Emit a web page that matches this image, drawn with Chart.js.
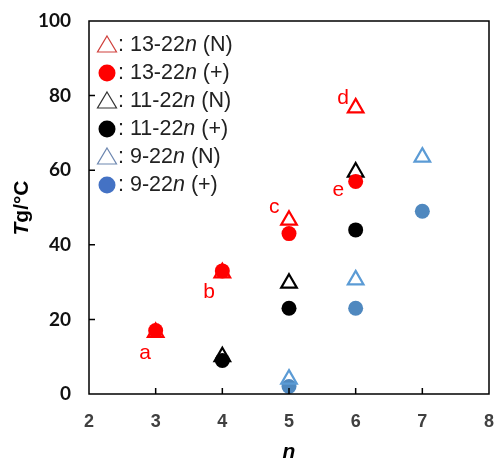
<!DOCTYPE html>
<html>
<head>
<meta charset="utf-8">
<script src="https://cdn.jsdelivr.net/npm/chart.js@4/dist/chart.umd.min.js"></script>
<style>
  html, body { margin: 0; padding: 0; background: #fff; }
</style>
</head>
<body>
<canvas id="tgChart" width="495" height="458"></canvas>
<script>
// values
const red13N = [{ x: 3, y: 16.5 }, { x: 4, y: 32.5 }, { x: 5, y: 46.6 }, { x: 6, y: 76.7 }];
const red13P = [{ x: 3, y: 17 }, { x: 4, y: 33 }, { x: 5, y: 43 }, { x: 6, y: 57 }];
const blk11N = [{ x: 4, y: 10 }, { x: 5, y: 29.7 }, { x: 6, y: 59.5 }];
const blk11P = [{ x: 4, y: 9 }, { x: 5, y: 23 }, { x: 6, y: 44 }];
const blu9N = [{ x: 5, y: 4 }, { x: 6, y: 30.6 }, { x: 7, y: 63.5 }];
const blu9P = [{ x: 5, y: 2 }, { x: 6, y: 23 }, { x: 7, y: 49 }];

const xTicks = [2, 3, 4, 5, 6, 7, 8];
const yTicks = [0, 20, 40, 60, 80, 100];

// red letters next to points
const noteText = ["a", "b", "c", "d", "e"];
const noteX = [2.84, 3.8, 4.78, 5.81, 5.74];
const noteY = [11, 27.3, 50, 79.4, 54.7];

const legendNames = ["13-22", "13-22", "11-22", "11-22", "9-22", "9-22"];
const legendTags = ["(N)", "(+)", "(N)", "(+)", "(N)", "(+)"];
const legendColors = ["#d0403c", "#ff0000", "#333333", "#000000", "#6d87b0", "#4472c4"];
const legendShapes = ["triangle", "circle", "triangle", "circle", "triangle", "circle"];

const tri = (data, color) => ({
  data, pointStyle: "triangle", pointRadius: 9, pointHoverRadius: 9,
  borderColor: color, borderWidth: 2.2, backgroundColor: "rgba(255,255,255,0)", showLine: false,
});
const dot = (data, color) => ({
  data, pointStyle: "circle", pointRadius: 7.5, pointHoverRadius: 7.5,
  borderColor: color, borderWidth: 0, backgroundColor: color, showLine: false,
});

const extras = {
  id: "extras",
  afterDraw(chart) {
    const { ctx, scales: { x, y } } = chart;
    const L = x.getPixelForValue(2), R = x.getPixelForValue(8);
    const T = y.getPixelForValue(100), B = y.getPixelForValue(0);
    ctx.save();
    // box + inward ticks
    ctx.strokeStyle = "#000";
    ctx.lineWidth = 1.5;
    ctx.beginPath();
    ctx.rect(L, T, R - L, B - T);
    yTicks.forEach((v) => {
      const py = y.getPixelForValue(v);
      ctx.moveTo(L, py); ctx.lineTo(L + 6, py);
    });
    xTicks.forEach((v) => {
      const px = x.getPixelForValue(v);
      ctx.moveTo(px, B); ctx.lineTo(px, B - 6);
    });
    ctx.stroke();

    // letters
    ctx.fillStyle = "#ff0000";
    ctx.font = "21px 'Liberation Sans'";
    ctx.textAlign = "center";
    ctx.textBaseline = "middle";
    noteText.forEach((t, i) => {
      ctx.fillText(t, x.getPixelForValue(noteX[i]), y.getPixelForValue(noteY[i]));
    });

    // legend
    ctx.textAlign = "left";
    ctx.textBaseline = "middle";
    const fs = "21.5px 'Liberation Sans'";
    legendNames.forEach((name, i) => {
      const cy = 45 + i * 28;
      const cx = 107;
      const c = legendColors[i];
      if (legendShapes[i] === "triangle") {
        ctx.strokeStyle = c;
        ctx.lineWidth = 1.2;
        ctx.beginPath();
        ctx.moveTo(cx, cy - 9); ctx.lineTo(cx + 9.5, cy + 7); ctx.lineTo(cx - 9.5, cy + 7);
        ctx.closePath();
        ctx.stroke();
      } else {
        ctx.fillStyle = c;
        ctx.beginPath();
        ctx.arc(cx, cy, 8.5, 0, Math.PI * 2);
        ctx.fill();
      }
      ctx.fillStyle = "#222";
      let tx = 118;
      ctx.font = fs;
      const s1 = ": " + name;
      ctx.fillText(s1, tx, cy);
      tx += ctx.measureText(s1).width;
      ctx.font = "italic " + fs;
      ctx.fillText("n", tx, cy);
      tx += ctx.measureText("n").width;
      ctx.font = fs;
      ctx.fillText(" " + legendTags[i], tx, cy);
    });

    // x title, italic bold n
    ctx.fillStyle = "#000";
    ctx.textAlign = "center";
    ctx.font = "italic bold 21px 'Liberation Sans'";
    ctx.fillText("n", (L + R) / 2, 452);

    // y title: T italic, rest bold
    ctx.translate(22, 208);
    ctx.rotate(-Math.PI / 2);
    ctx.font = "italic bold 21px 'Liberation Sans'";
    const wT = ctx.measureText("T").width;
    ctx.font = "bold 21px 'Liberation Sans'";
    const wR = ctx.measureText("g/°C").width;
    const start = -(wT + wR) / 2;
    ctx.textAlign = "left";
    ctx.font = "italic bold 21px 'Liberation Sans'";
    ctx.fillText("T", start, 0);
    ctx.font = "bold 21px 'Liberation Sans'";
    ctx.fillText("g/°C", start + wT, 0);
    ctx.restore();
  },
};

new Chart(document.getElementById("tgChart"), {
  type: "scatter",
  data: {
    datasets: [
      tri(red13N, "#ff0000"),
      dot(red13P, "#ff0000"),
      tri(blk11N, "#000000"),
      dot(blk11P, "#000000"),
      tri(blu9N, "#5b9bd5"),
      dot(blu9P, "#4f88bf"),
    ],
  },
  options: {
    responsive: false,
    animation: false,
    layout: { autoPadding: false, padding: { top: 21, right: 6, left: 0, bottom: 0 } },
    plugins: { legend: { display: false }, tooltip: { enabled: false } },
    scales: {
      x: {
        type: "linear", min: 2, max: 8,
        afterBuildTicks: (s) => { s.ticks = xTicks.map((v) => ({ value: v })); },
        afterFit: (s) => { s.height = 64; s.paddingLeft = 0; s.paddingRight = 0; },
        grid: { display: false, drawTicks: false },
        border: { display: false },
        ticks: { padding: 17, color: "#404040", font: { family: "'Liberation Sans'", size: 18, weight: "bold" } },
      },
      y: {
        min: 0, max: 100,
        afterBuildTicks: (s) => { s.ticks = yTicks.map((v) => ({ value: v })); },
        afterFit: (s) => { s.width = 89; s.paddingTop = 0; s.paddingBottom = 0; },
        grid: { display: false, drawTicks: false },
        border: { display: false },
        ticks: { padding: 18, color: "#111", font: { family: "Lato", size: 19, weight: "bold" } },
      },
    },
  },
  plugins: [extras],
});
</script>
</body>
</html>
